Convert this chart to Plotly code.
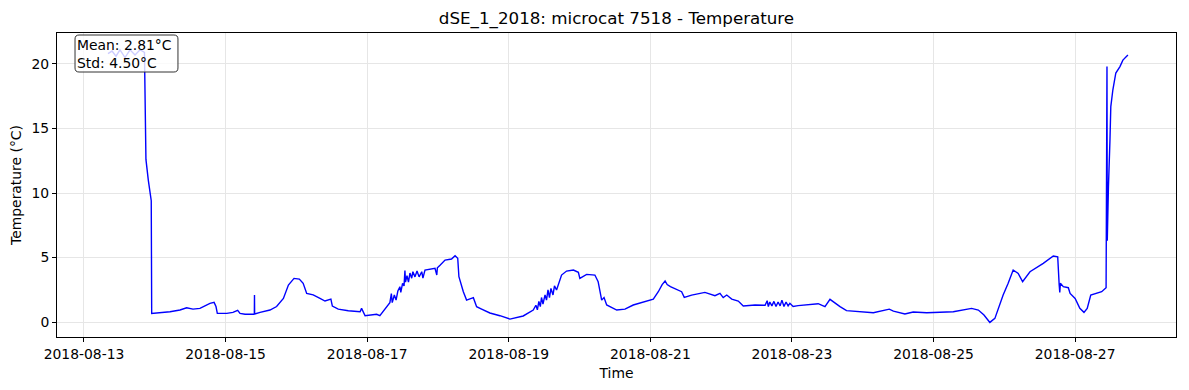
import pandas as pd
import plotly.graph_objects as go

# hours since 2018-08-13 00:00, temperature (°C)
t_hours = [
    8.14, 9.5, 10.85, 12.2, 13.9, 15.6, 17.3, 19.0, 20.5, 20.8, 21.0, 21.8, 22.6, 22.8, 22.95,
    25.76, 29.15, 32.54, 34.8, 36.95, 39.3, 41.0, 42.7, 44.1, 44.75, 45.2, 48.4, 50.5, 52.1,
    52.9, 54.6, 57.75, 57.8, 57.85, 59.7, 63.05, 65.3, 67.6, 69.3, 71.2, 73.0, 74.3, 75.5,
    77.7, 80.0, 81.7, 83.7, 84.2, 86.2, 89.6, 93.6, 94.1, 95.3, 99.2, 100.3, 102.6,
    103.7, 104.2, 104.5, 104.9, 105.2, 105.8, 106.4, 107.1, 107.4, 108.0, 108.5, 108.8, 109.0,
    109.5, 110.0, 110.5, 111.1, 111.5, 112.2, 112.9, 113.6, 114.5, 114.9, 115.6,
    119.0, 119.6, 119.8, 120.7, 122.4, 124.6, 125.8, 126.7, 127.1, 128.6, 129.7, 132.0, 133.1,
    134.8, 137.6, 141.0, 144.4, 148.9, 152.3,
    153.2, 153.7, 154.2, 154.7, 155.1, 155.6, 156.3, 156.8, 157.3, 157.8, 158.3, 159.0, 159.5,
    160.2, 161.9, 163.6, 165.9, 167.6, 168.1, 170.4, 173.2, 174.3, 175.5, 176.3, 177.2,
    180.6, 183.4, 186.2, 193.0, 194.7, 196.0, 197.0, 197.7, 198.8, 202.6, 203.5, 206.0,
    210.5, 213.9, 215.6, 216.7, 217.9, 219.6, 221.8, 223.5, 227.5,
    230.9, 231.6, 232.0, 232.5, 233.2, 233.9, 234.6, 235.3, 236.0, 236.6, 237.3, 238.0,
    238.7, 239.3, 240.4, 242.1, 248.9, 251.2, 252.9, 254.6, 256.3, 258.5, 267.6, 273.0,
    274.4, 278.3, 281.1, 285.7, 294.7, 300.9, 303.2, 305.1, 307.1, 308.8, 311.6, 313.3,
    315.0, 316.7, 318.2, 320.7, 325.2, 328.6, 330.1, 330.6, 330.8, 331.0, 332.0, 333.7,
    334.3, 336.0, 337.6, 339.0, 340.1, 341.3, 343.3, 345.0, 346.5, 346.8, 346.9, 347.1,
    347.3, 347.8, 348.1, 348.8, 349.8, 351.2, 352.2, 353.9,
]
temp_c = [
    20.8, 21.0, 20.6, 21.1, 20.5, 21.1, 20.7, 21.1, 20.9, 13.6, 12.6, 11.0, 9.5, 9.4, 0.67,
    0.72, 0.8, 0.93, 1.1, 1.0, 1.06, 1.25, 1.45, 1.52, 1.2, 0.67, 0.67, 0.75, 0.9,
    0.67, 0.6, 0.6, 2.1, 0.62, 0.75, 0.93, 1.2, 1.83, 2.87, 3.38, 3.33, 3.0, 2.22,
    2.1, 1.83, 1.63, 1.78, 1.24, 1.0, 0.88, 0.8, 1.06, 0.49, 0.6, 0.49, 1.19,
    1.5, 2.2, 1.5, 1.83, 2.1, 1.7, 2.4, 2.74, 2.3, 3.0, 2.8, 4.0, 3.1,
    3.6, 3.1, 3.8, 3.4, 3.9, 3.5, 3.95, 3.5, 3.9, 3.4, 4.03,
    4.16, 3.64, 4.2, 4.4, 4.8, 4.88, 5.14, 4.94, 3.51, 2.35, 1.7, 1.89, 1.19,
    1.0, 0.7, 0.49, 0.23, 0.47, 0.93,
    1.3, 0.95, 1.6, 1.2, 1.9, 1.4, 2.1, 1.7, 2.5, 1.9, 2.6, 2.1, 2.8,
    2.48, 3.64, 3.95, 4.03, 3.85, 3.38, 3.69, 3.64, 3.13, 1.7, 1.9, 1.32,
    0.93, 1.0, 1.32, 1.78, 2.35, 2.9, 3.18, 2.9, 2.74, 2.35, 1.91, 2.09,
    2.3, 2.04, 2.22, 1.89, 2.09, 1.78, 1.63, 1.24, 1.32,
    1.3, 1.65, 1.2, 1.55, 1.25, 1.6, 1.2, 1.55, 1.25, 1.7, 1.2, 1.55,
    1.25, 1.45, 1.2, 1.27, 1.42, 1.19, 1.76, 1.45, 1.2, 0.88, 0.72, 1.0,
    0.85, 0.62, 0.78, 0.72, 0.8, 1.06, 0.93, 0.54, -0.03, 0.28, 2.09, 3.0,
    4.03, 3.77, 3.13, 3.9, 4.55, 5.12, 5.06, 2.87, 2.3, 3.0, 2.74, 2.66,
    2.22, 1.83, 1.06, 0.75, 1.06, 2.09, 2.22, 2.35, 2.66, 19.8, 6.3, 9.8,
    10.5, 14.0, 16.7, 18.0, 19.3, 19.8, 20.3, 20.7,
]

start = pd.Timestamp("2018-08-13 00:00")
times = start + pd.to_timedelta(t_hours, unit="h")

x_ticks = ["2018-08-13", "2018-08-15", "2018-08-17", "2018-08-19",
           "2018-08-21", "2018-08-23", "2018-08-25", "2018-08-27"]
y_ticks = [0, 5, 10, 15, 20]

font = "DejaVu Sans"
fs = 13.9

fig = go.Figure()
fig.add_trace(go.Scatter(
    x=times, y=temp_c, mode="lines",
    line=dict(color="#0000ff", width=1.4),
    showlegend=False, hoverinfo="x+y",
))

axis_common = dict(
    showline=True, linecolor="black", linewidth=1, mirror=True,
    ticks="outside", ticklen=4, tickcolor="black", tickwidth=1,
    showgrid=True, gridcolor="#e6e6e6", gridwidth=1, zeroline=False,
    tickfont=dict(family=font, size=fs, color="black"),
    automargin=False,
)

# rounded stats box (paper coordinates)
bx0, bx1, by0, by1 = 0.0161, 0.1081, 0.8717, 0.9934
rx, ry = 0.0036, 0.0132
box_path = (
    f"M {bx0+rx},{by1} L {bx1-rx},{by1} Q {bx1},{by1} {bx1},{by1-ry} "
    f"L {bx1},{by0+ry} Q {bx1},{by0} {bx1-rx},{by0} "
    f"L {bx0+rx},{by0} Q {bx0},{by0} {bx0},{by0+ry} "
    f"L {bx0},{by1-ry} Q {bx0},{by1} {bx0+rx},{by1} Z"
)

fig.update_layout(
    width=1181, height=382,
    margin=dict(l=49, r=13, t=25, b=53, autoexpand=False),
    paper_bgcolor="white", plot_bgcolor="white",
    font=dict(family=font, size=fs, color="black"),
    title=dict(text="dSE_1_2018: microcat 7518 - Temperature",
               x=0.5, xref="paper", xanchor="center", y=0.974, yanchor="middle",
               font=dict(family=font, size=16.7, color="black")),
    xaxis=dict(
        **axis_common,
        type="date",
        range=["2018-08-12 14:51", "2018-08-28 10:12"],
        tickvals=x_ticks, ticktext=x_ticks,
        title=dict(text="Time", font=dict(family=font, size=fs), standoff=7),
    ),
    yaxis=dict(
        **axis_common,
        range=[-1.16, 22.4],
        tickvals=y_ticks,
        title=dict(text="Temperature (°C)", font=dict(family=font, size=fs), standoff=16),
    ),
    shapes=[dict(type="path", xref="paper", yref="paper", path=box_path,
                 fillcolor="rgba(255,255,255,0.8)", line=dict(color="#333333", width=1),
                 layer="above")],
    annotations=[dict(
        text="Mean: 2.81°C<br>Std: 4.50°C",
        xref="paper", yref="paper", x=0.0161, y=0.995,
        xanchor="left", yanchor="top", align="left", showarrow=False,
        font=dict(family=font, size=fs, color="black"),
        borderpad=2, borderwidth=0,
    )],
)

fig.write_html("out.html")
